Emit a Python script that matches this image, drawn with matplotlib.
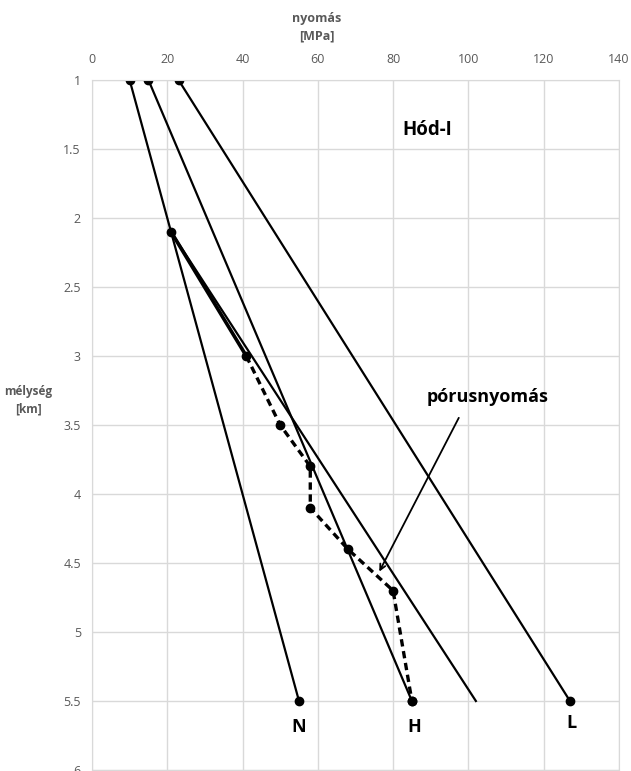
import matplotlib.pyplot as plt

# nyomásgradiens vonalak (nyomás MPa, mélység km)
n_p = [10, 21, 55]
n_d = [1, 2.1, 5.5]
h_p = [15, 85]
h_d = [1, 5.5]
l_p = [23, 127]
l_d = [1, 5.5]
mid_p = [21, 102]
mid_d = [2.1, 5.5]

# pórusnyomás
pore_solid_p = [21, 41]
pore_solid_d = [2.1, 3.0]
pore_p = [41, 50, 58, 58, 68, 80, 85]
pore_d = [3.0, 3.5, 3.8, 4.1, 4.4, 4.7, 5.5]

x_ticks = [0, 20, 40, 60, 80, 100, 120, 140]
y_ticks = [1, 1.5, 2, 2.5, 3, 3.5, 4, 4.5, 5, 5.5, 6]

plt.rcParams['font.family'] = ['Open Sans', 'DejaVu Sans']
grey = '#595959'

fig = plt.figure(figsize=(6.31, 7.71), dpi=100)
ax = fig.add_axes([0.1458, 0.0013, 0.835, 0.8949])

ax.plot(n_p, n_d, color='black', lw=1.6, marker='o', ms=6)
ax.plot(h_p, h_d, color='black', lw=1.6, marker='o', ms=6)
ax.plot(l_p, l_d, color='black', lw=1.6, marker='o', ms=6)
ax.plot(mid_p, mid_d, color='black', lw=1.6)
ax.plot(pore_solid_p, pore_solid_d, color='black', lw=2.6)
ax.plot(pore_p, pore_d, color='black', lw=2.4, marker='o', ms=6,
        linestyle=(0, (2.2, 1.4)))

ax.set_xlim(0, 140)
ax.set_ylim(6, 1)
ax.set_xticks(x_ticks)
ax.set_yticks(y_ticks)
ax.set_yticklabels([f"{v:g}" for v in y_ticks])
ax.xaxis.tick_top()
ax.tick_params(axis='both', length=0, labelsize=9, colors=grey, pad=8)
ax.tick_params(axis='x', pad=10)
ax.grid(True, color='#d9d9d9', lw=1)
for s in ax.spines.values():
    s.set_color('#d9d9d9')

fig.text(317 / 631, 1 - 27 / 771, "nyomás\n[MPa]", ha='center', va='center',
         fontsize=9, fontweight='bold', color=grey, linespacing=1.4)
fig.text(28 / 631, 1 - 400 / 771, "mélység\n[km]", ha='center', va='center',
         fontsize=8.5, fontweight='bold', color=grey, linespacing=1.4)

ax.text(89, 1.36, "Hód-I", fontsize=13.5, fontweight='bold', ha='center', va='center')
ax.text(55, 5.69, "N", fontsize=13, fontweight='bold', ha='center', va='center')
ax.text(85.6, 5.69, "H", fontsize=13, fontweight='bold', ha='center', va='center')
ax.text(127.5, 5.66, "L", fontsize=13, fontweight='bold', ha='center', va='center')

ax.text(105, 3.3, "pórusnyomás", fontsize=13, fontweight='bold', ha='center', va='center')
ax.annotate("", xy=(76.0, 4.58), xytext=(97.8, 3.43),
            arrowprops=dict(arrowstyle='->', color='black', lw=1.3))

fig.savefig("out.png", dpi=100)
